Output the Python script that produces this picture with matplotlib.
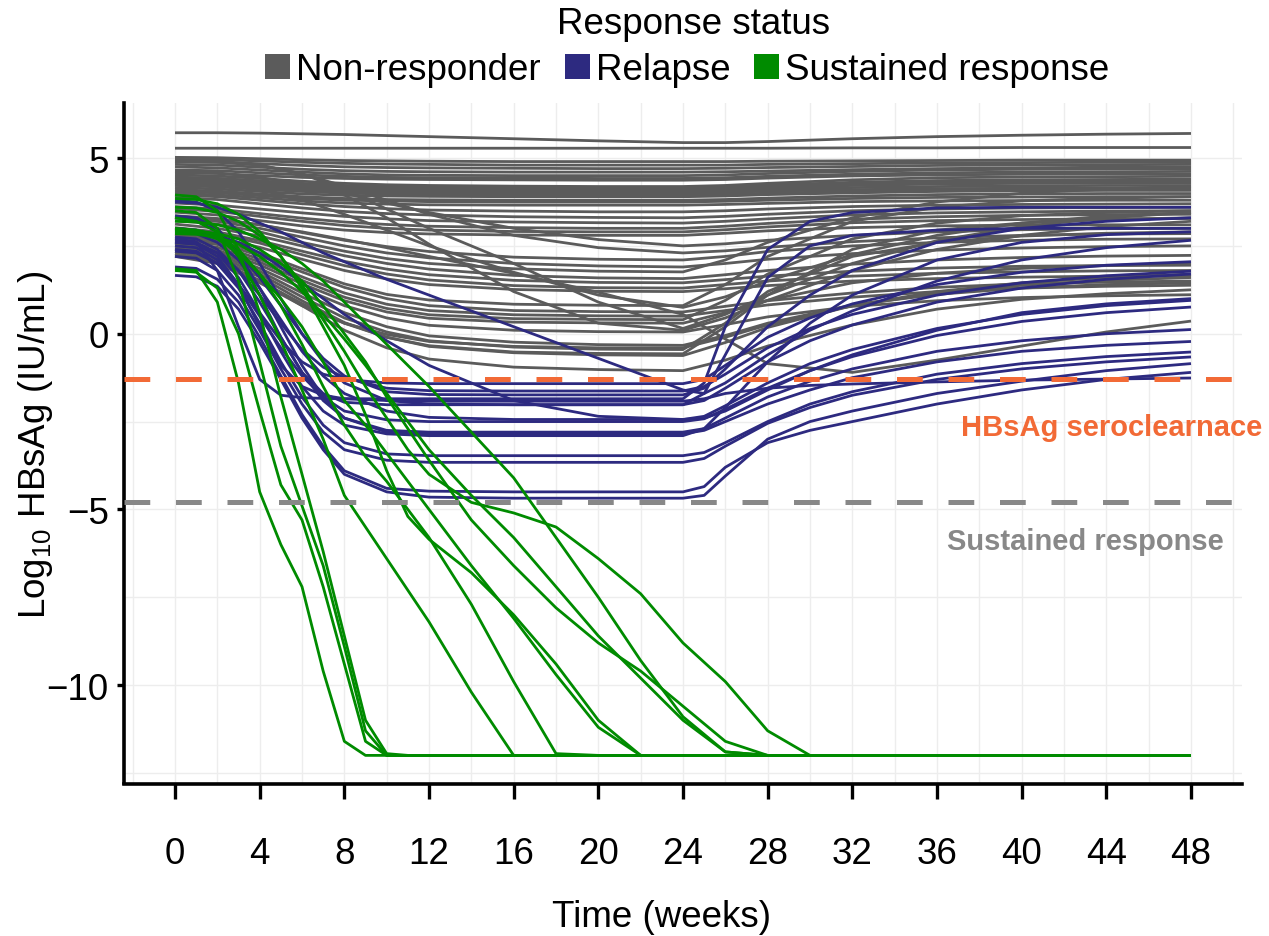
import matplotlib
matplotlib.use("Agg")
import matplotlib.pyplot as plt
from matplotlib.patches import Rectangle
from matplotlib.ticker import FixedLocator

# ---------------- data ----------------
weeks_nr = [0, 2, 4, 6, 8, 10, 12, 16, 20, 24, 26, 28, 32, 36, 40, 44, 48]
nonresponder = [
    [5.72, 5.72, 5.71, 5.69, 5.67, 5.64, 5.61, 5.55, 5.49, 5.44, 5.44, 5.47, 5.55, 5.61, 5.65, 5.68, 5.70],
    [5.28, 5.28, 5.28, 5.28, 5.28, 5.28, 5.28, 5.28, 5.28, 5.28, 5.28, 5.28, 5.29, 5.29, 5.30, 5.30, 5.30],
    [5.02, 5.01, 4.98, 4.95, 4.93, 4.92, 4.91, 4.90, 4.90, 4.90, 4.90, 4.91, 4.92, 4.93, 4.94, 4.94, 4.94],
    [4.96, 4.95, 4.92, 4.88, 4.85, 4.83, 4.82, 4.80, 4.80, 4.80, 4.80, 4.82, 4.84, 4.86, 4.87, 4.88, 4.88],
    [4.90, 4.88, 4.84, 4.79, 4.75, 4.73, 4.72, 4.71, 4.70, 4.70, 4.71, 4.73, 4.76, 4.79, 4.80, 4.81, 4.82],
    [4.82, 4.80, 4.74, 4.68, 4.64, 4.62, 4.61, 4.60, 4.60, 4.60, 4.61, 4.63, 4.67, 4.70, 4.72, 4.74, 4.75],
    [4.75, 4.72, 4.66, 4.60, 4.55, 4.52, 4.51, 4.50, 4.50, 4.50, 4.52, 4.56, 4.62, 4.66, 4.68, 4.69, 4.70],
    [4.66, 4.64, 4.58, 4.52, 4.48, 4.45, 4.44, 4.43, 4.42, 4.42, 4.44, 4.48, 4.54, 4.58, 4.60, 4.61, 4.62],
    [4.58, 4.56, 4.50, 4.45, 4.42, 4.40, 4.39, 4.38, 4.37, 4.37, 4.39, 4.43, 4.49, 4.52, 4.54, 4.55, 4.55],
    [4.52, 4.49, 4.42, 4.34, 4.28, 4.24, 4.22, 4.20, 4.19, 4.19, 4.22, 4.28, 4.38, 4.44, 4.46, 4.47, 4.48],
    [4.46, 4.42, 4.35, 4.28, 4.22, 4.19, 4.17, 4.16, 4.15, 4.15, 4.18, 4.23, 4.31, 4.36, 4.38, 4.39, 4.40],
    [4.40, 4.36, 4.29, 4.22, 4.17, 4.14, 4.12, 4.11, 4.10, 4.10, 4.13, 4.18, 4.26, 4.31, 4.33, 4.34, 4.35],
    [4.36, 4.32, 4.25, 4.18, 4.13, 4.11, 4.09, 4.08, 4.08, 4.08, 4.11, 4.15, 4.22, 4.26, 4.28, 4.29, 4.30],
    [4.30, 4.27, 4.20, 4.14, 4.10, 4.08, 4.06, 4.05, 4.05, 4.05, 4.07, 4.11, 4.16, 4.19, 4.21, 4.22, 4.22],
    [4.26, 4.22, 4.16, 4.10, 4.05, 4.03, 4.01, 4.00, 4.00, 4.00, 4.02, 4.06, 4.10, 4.13, 4.14, 4.15, 4.15],
    [4.22, 4.18, 4.11, 4.05, 4.00, 3.98, 3.96, 3.95, 3.95, 3.95, 3.97, 4.00, 4.05, 4.08, 4.09, 4.10, 4.10],
    [4.16, 4.12, 4.05, 3.98, 3.94, 3.92, 3.91, 3.90, 3.90, 3.90, 3.92, 3.96, 4.01, 4.05, 4.07, 4.08, 4.08],
    [4.10, 4.06, 3.98, 3.90, 3.85, 3.82, 3.81, 3.80, 3.80, 3.80, 3.82, 3.86, 3.92, 3.96, 3.98, 3.99, 3.99],
    [4.05, 4.01, 3.93, 3.85, 3.80, 3.78, 3.76, 3.75, 3.75, 3.75, 3.77, 3.80, 3.85, 3.88, 3.89, 3.90, 3.90],
    [4.00, 3.95, 3.87, 3.78, 3.72, 3.69, 3.67, 3.66, 3.66, 3.66, 3.68, 3.71, 3.76, 3.78, 3.79, 3.80, 3.80],
    [3.95, 3.90, 3.80, 3.70, 3.62, 3.56, 3.52, 3.49, 3.47, 3.47, 3.50, 3.55, 3.62, 3.66, 3.68, 3.69, 3.70],
    [3.88, 3.82, 3.70, 3.58, 3.48, 3.42, 3.38, 3.33, 3.31, 3.30, 3.34, 3.40, 3.50, 3.55, 3.58, 3.59, 3.60],
    [3.72, 3.66, 3.55, 3.44, 3.34, 3.27, 3.22, 3.18, 3.16, 3.15, 3.20, 3.27, 3.38, 3.44, 3.47, 3.49, 3.50],
    [3.62, 3.55, 3.42, 3.29, 3.18, 3.11, 3.06, 3.02, 3.00, 3.00, 3.06, 3.14, 3.26, 3.33, 3.37, 3.39, 3.40],
    [3.56, 3.48, 3.34, 3.20, 3.08, 3.00, 2.95, 2.91, 2.90, 2.90, 2.96, 3.04, 3.16, 3.22, 3.25, 3.27, 3.28],
    [3.46, 3.38, 3.22, 3.07, 2.95, 2.88, 2.84, 2.81, 2.80, 2.80, 2.86, 2.93, 3.02, 3.07, 3.09, 3.10, 3.10],
    [4.62, 4.58, 4.45, 4.25, 4.00, 3.72, 3.45, 3.00, 2.68, 2.50, 2.56, 2.66, 2.80, 2.90, 2.96, 2.99, 3.00],
    [4.95, 4.92, 4.80, 4.55, 4.20, 3.80, 3.40, 2.80, 2.45, 2.30, 2.36, 2.46, 2.62, 2.73, 2.80, 2.84, 2.85],
    [3.36, 3.28, 3.10, 2.88, 2.66, 2.48, 2.34, 2.18, 2.12, 2.10, 2.20, 2.34, 2.50, 2.60, 2.66, 2.69, 2.70],
    [3.30, 3.20, 3.00, 2.75, 2.50, 2.30, 2.16, 2.00, 1.93, 1.90, 2.00, 2.12, 2.28, 2.38, 2.44, 2.48, 2.50],
    [3.22, 3.12, 2.90, 2.60, 2.35, 2.14, 2.00, 1.85, 1.78, 1.76, 2.10, 2.60, 3.30, 3.75, 4.00, 4.12, 4.20],
    [3.12, 3.00, 2.78, 2.50, 2.22, 2.00, 1.84, 1.66, 1.59, 1.57, 1.68, 1.80, 1.98, 2.10, 2.17, 2.21, 2.23],
    [3.02, 2.90, 2.65, 2.35, 2.06, 1.84, 1.68, 1.52, 1.46, 1.45, 1.54, 1.64, 1.78, 1.87, 1.92, 1.94, 1.95],
    [2.96, 2.84, 2.58, 2.25, 1.94, 1.70, 1.53, 1.37, 1.31, 1.30, 1.40, 1.50, 1.64, 1.72, 1.76, 1.79, 1.80],
    [2.86, 2.74, 2.46, 2.12, 1.80, 1.56, 1.40, 1.26, 1.21, 1.20, 1.28, 1.37, 1.50, 1.57, 1.61, 1.64, 1.65],
    [2.82, 2.66, 2.30, 1.85, 1.42, 1.12, 0.96, 0.84, 0.81, 0.80, 1.40, 2.20, 3.20, 3.60, 3.78, 3.86, 3.90],
    [2.76, 2.60, 2.22, 1.76, 1.32, 1.00, 0.80, 0.66, 0.63, 0.62, 0.78, 0.94, 1.16, 1.32, 1.42, 1.47, 1.50],
    [2.70, 2.54, 2.12, 1.62, 1.16, 0.84, 0.66, 0.54, 0.51, 0.50, 0.66, 0.82, 1.04, 1.20, 1.30, 1.35, 1.38],
    [2.62, 2.46, 2.04, 1.52, 1.04, 0.72, 0.54, 0.43, 0.41, 0.40, 0.95, 1.70, 2.70, 3.15, 3.36, 3.45, 3.50],
    [2.56, 2.38, 1.96, 1.42, 0.94, 0.62, 0.44, 0.33, 0.31, 0.30, 0.60, 0.95, 1.45, 1.72, 1.86, 1.94, 2.00],
    [2.50, 2.32, 1.86, 1.30, 0.80, 0.45, 0.24, 0.10, 0.06, 0.05, 0.26, 0.48, 0.78, 0.94, 1.03, 1.08, 1.11],
    [2.44, 2.26, 1.78, 1.16, 0.60, 0.20, -0.06, -0.24, -0.31, -0.33, -0.05, 0.30, 0.82, 1.12, 1.30, 1.40, 1.45],
    [2.40, 2.20, 1.70, 1.05, 0.45, 0.05, -0.20, -0.38, -0.44, -0.45, 0.30, 1.20, 2.20, 2.60, 2.78, 2.86, 2.90],
    [2.34, 2.14, 1.62, 0.94, 0.32, -0.10, -0.36, -0.54, -0.60, -0.62, -0.25, 0.18, 0.80, 1.20, 1.45, 1.60, 1.70],
    [2.28, 2.08, 1.52, 0.80, 0.10, -0.40, -0.72, -0.95, -1.02, -1.05, -0.75, -0.35, 0.25, 0.70, 0.98, 1.14, 1.25],
    [3.32, 3.25, 3.10, 2.90, 2.68, 2.45, 2.20, 1.72, 1.18, 0.55, -0.15, -0.85, -1.10, -0.75, -0.35, 0.05, 0.36],
    [2.24, 2.04, 1.50, 0.86, 0.30, -0.10, -0.34, -0.52, -0.56, -0.57, 0.20, 1.10, 2.40, 2.95, 3.15, 3.25, 3.30],
    [2.20, 2.00, 1.45, 0.80, 0.30, -0.02, -0.22, -0.36, -0.40, -0.40, -0.10, 0.25, 0.80, 1.15, 1.38, 1.52, 1.60],
    [4.45, 4.42, 4.35, 4.20, 3.95, 3.30, 2.55, 1.20, 0.30, 0.10, 0.45, 0.95, 1.80, 2.40, 2.80, 3.05, 3.20],
    [4.90, 4.88, 4.80, 4.55, 4.10, 3.55, 3.00, 2.00, 0.90, 0.15, 0.55, 1.10, 2.00, 2.65, 3.05, 3.30, 3.45],
    [4.30, 4.25, 4.10, 3.80, 3.40, 2.95, 2.50, 1.75, 1.10, 0.75, 1.05, 1.50, 2.25, 2.80, 3.15, 3.35, 3.45],
]

weeks_rel = [0, 1, 2, 3, 4, 5, 6, 7, 8, 10, 12, 16, 20, 24, 25, 26, 28, 30, 32, 36, 40, 44, 48]
relapse = [
    [2.70, 2.62, 1.80, 0.20, -1.30, -1.75, -1.82, -1.84, -1.85, -1.85, -1.85, -1.85, -1.85, -1.85, -1.40, 0.20, 2.40, 3.20, 3.45, 3.58, 3.60, 3.60, 3.60],
    [3.30, 3.25, 2.90, 2.20, 1.10, -0.10, -1.10, -1.70, -1.95, -2.02, -2.02, -2.02, -2.02, -2.02, -1.70, -0.60, 1.60, 2.50, 2.80, 2.95, 3.00, 3.00, 3.00],
    [3.75, 3.72, 3.60, 3.40, 3.15, 2.90, 2.60, 2.30, 2.05, 1.55, 1.10, 0.20, -0.70, -1.60, -1.70, -1.40, -0.60, 0.10, 0.65, 1.50, 2.10, 2.45, 2.66],
    [2.35, 2.30, 2.00, 1.40, 0.60, -0.20, -0.80, -1.15, -1.30, -1.40, -1.42, -1.42, -1.42, -1.42, -1.30, -0.90, -0.10, 0.45, 0.85, 1.40, 1.75, 1.95, 2.05],
    [2.60, 2.55, 2.30, 1.80, 1.10, 0.30, -0.45, -0.95, -1.25, -1.55, -1.62, -1.63, -1.63, -1.63, -1.50, -1.15, -0.40, 0.15, 0.55, 1.10, 1.45, 1.65, 1.78],
    [3.00, 2.95, 2.75, 2.30, 1.60, 0.80, 0.00, -0.70, -1.20, -1.65, -1.73, -1.74, -1.74, -1.74, -1.55, -1.00, 0.20, 1.10, 1.80, 2.60, 3.00, 3.20, 3.30],
    [2.90, 2.85, 2.60, 2.10, 1.30, 0.40, -0.50, -1.20, -1.70, -2.20, -2.38, -2.44, -2.44, -2.44, -2.35, -2.05, -1.40, -0.85, -0.45, 0.15, 0.55, 0.80, 0.95],
    [2.50, 2.45, 2.10, 1.40, 0.50, -0.40, -1.20, -1.80, -2.20, -2.45, -2.50, -2.50, -2.50, -2.50, -2.42, -2.15, -1.55, -1.05, -0.65, -0.05, 0.35, 0.60, 0.76],
    [2.75, 2.70, 2.40, 1.80, 0.90, -0.10, -1.10, -1.90, -2.40, -2.75, -2.80, -2.80, -2.80, -2.80, -2.70, -2.40, -1.80, -1.35, -1.00, -0.50, -0.20, 0.00, 0.12],
    [3.35, 3.30, 3.00, 2.30, 1.30, 0.20, -0.90, -1.80, -2.40, -2.80, -2.85, -2.85, -2.85, -2.85, -2.75, -2.50, -2.00, -1.60, -1.25, -0.80, -0.50, -0.33, -0.22],
    [2.65, 2.60, 2.30, 1.60, 0.60, -0.50, -1.50, -2.20, -2.60, -2.85, -2.90, -2.90, -2.90, -2.90, -2.70, -2.10, -0.80, 0.30, 1.10, 2.10, 2.60, 2.82, 2.90],
    [2.40, 2.35, 2.00, 1.30, 0.30, -0.80, -1.80, -2.60, -3.10, -3.42, -3.47, -3.47, -3.47, -3.47, -3.38, -3.10, -2.50, -2.00, -1.65, -1.15, -0.85, -0.65, -0.52],
    [2.20, 2.15, 1.80, 1.10, 0.10, -1.00, -2.00, -2.80, -3.30, -3.60, -3.66, -3.66, -3.66, -3.66, -3.55, -3.20, -2.55, -2.10, -1.75, -1.30, -1.00, -0.80, -0.66],
    [1.90, 1.86, 1.55, 0.90, -0.10, -1.20, -2.30, -3.20, -3.90, -4.40, -4.48, -4.50, -4.50, -4.50, -4.35, -3.80, -3.10, -2.75, -2.50, -2.00, -1.60, -1.30, -1.10],
    [1.66, 1.62, 1.35, 0.70, -0.25, -1.30, -2.40, -3.30, -4.00, -4.50, -4.65, -4.68, -4.68, -4.68, -4.60, -4.05, -3.00, -2.50, -2.20, -1.70, -1.35, -1.05, -0.85],
    [2.60, 2.55, 2.20, 1.40, 0.20, -0.90, -1.50, -1.75, -1.85, -1.90, -1.92, -1.92, -1.92, -1.92, -1.85, -1.70, -1.55, -1.47, -1.43, -1.37, -1.32, -1.29, -1.26],
    [3.80, 3.75, 3.50, 2.90, 2.00, 1.00, 0.00, -0.80, -1.40, -1.90, -2.00, -2.02, -2.02, -2.02, -1.90, -1.55, -0.80, -0.20, 0.25, 0.90, 1.30, 1.55, 1.70],
    [2.95, 2.92, 2.80, 2.60, 2.30, 1.90, 1.45, 1.00, 0.55, -0.20, -0.90, -1.90, -2.35, -2.44, -2.40, -2.20, -1.60, -1.05, -0.60, 0.10, 0.60, 0.85, 1.00],
]

weeks_sr = [0, 1, 2, 3, 4, 5, 6, 7, 8, 9, 10, 11, 12, 14, 16, 18, 20, 22, 24, 26, 28, 30, 32, 48]
sustained = [
    [1.85, 1.80, 0.90, -1.40, -4.50, -6.00, -7.20, -9.60, -11.60, -12, -12, -12, -12, -12, -12, -12, -12, -12, -12, -12, -12, -12, -12, -12],
    [1.80, 1.75, 1.30, 0.00, -2.20, -4.30, -5.30, -7.20, -9.40, -11.60, -12, -12, -12, -12, -12, -12, -12, -12, -12, -12, -12, -12, -12, -12],
    [3.50, 3.45, 3.00, 1.50, -0.80, -3.20, -4.90, -6.60, -8.90, -11.30, -12, -12, -12, -12, -12, -12, -12, -12, -12, -12, -12, -12, -12, -12],
    [3.95, 3.90, 3.50, 2.40, 0.60, -1.80, -4.00, -6.20, -8.60, -11.00, -11.95, -12, -12, -12, -12, -12, -12, -12, -12, -12, -12, -12, -12, -12],
    [3.30, 3.20, 2.90, 2.20, 1.10, -0.20, -1.60, -3.00, -4.60, -5.50, -6.40, -7.30, -8.20, -10.20, -12, -12, -12, -12, -12, -12, -12, -12, -12, -12],
    [3.00, 2.95, 2.80, 2.40, 1.70, 0.80, -0.30, -1.50, -2.60, -3.50, -4.20, -5.00, -5.80, -7.70, -9.90, -11.95, -12, -12, -12, -12, -12, -12, -12, -12],
    [3.85, 3.82, 3.70, 3.40, 2.90, 2.20, 1.30, 0.20, -0.90, -2.30, -3.90, -5.20, -5.85, -6.80, -8.00, -9.40, -11.00, -12, -12, -12, -12, -12, -12, -12],
    [2.90, 2.88, 2.70, 2.30, 1.70, 1.00, 0.20, -0.80, -1.90, -2.60, -3.40, -4.20, -5.00, -6.60, -8.10, -9.70, -11.20, -12, -12, -12, -12, -12, -12, -12],
    [3.60, 3.58, 3.45, 3.20, 2.80, 2.20, 1.40, 0.40, -0.50, -1.50, -2.40, -3.30, -4.00, -4.80, -5.10, -5.50, -6.40, -7.40, -8.80, -9.90, -11.30, -12, -12, -12],
    [2.95, 2.93, 2.85, 2.70, 2.40, 2.00, 1.50, 0.80, 0.00, -0.80, -1.80, -2.70, -3.60, -5.30, -6.60, -7.80, -8.80, -9.60, -10.60, -11.60, -12, -12, -12, -12],
    [2.85, 2.83, 2.75, 2.55, 2.20, 1.75, 1.20, 0.55, -0.15, -0.90, -1.70, -2.50, -3.30, -4.60, -5.80, -7.20, -8.60, -9.80, -11.00, -11.90, -12, -12, -12, -12],
    [3.20, 3.18, 3.10, 2.95, 2.70, 2.40, 2.00, 1.50, 0.90, 0.30, -0.30, -0.90, -1.50, -2.80, -4.10, -5.80, -7.50, -9.30, -10.90, -11.90, -12, -12, -12, -12],
]

legend_labels = ["Non-responder", "Relapse", "Sustained response"]
x_ticks = list(range(0, 49, 4))
y_ticks = [-10, -5, 0, 5]
seroclearance_level = -1.3
sustained_level = -4.8

COL_NR = "#5B5B5B"
COL_REL = "#2D2A80"
COL_SR = "#008B00"
COL_ORANGE = "#F26A36"
COL_DGRAY = "#888888"

# ---------------- figure ----------------
plt.rcParams['font.family'] = ['Liberation Sans', 'DejaVu Sans']
plt.rcParams['mathtext.fontset'] = 'custom'
plt.rcParams['mathtext.rm'] = 'Liberation Sans'
plt.rcParams['mathtext.it'] = 'Liberation Sans:italic'
plt.rcParams['mathtext.bf'] = 'Liberation Sans:bold'

W, H = 1269, 937
FS = 26.5
fig = plt.figure(figsize=(W / 100, H / 100), dpi=100)
L, R, B, T = 124, 1242, 784.5, 104
ax = fig.add_axes([L / W, 1 - B / H, (R - L) / W, (B - T) / H])
ax.set_xlim(-2.41, 50.41)
ax.set_ylim(-12.8, 6.567)

lw = 2.0
for c in nonresponder:
    ax.plot(weeks_nr, c, color=COL_NR, lw=lw, solid_joinstyle='round', solid_capstyle='butt', zorder=2)
for c in relapse:
    ax.plot(weeks_rel, c, color=COL_REL, lw=lw, solid_joinstyle='round', solid_capstyle='butt', zorder=3)
for c in sustained:
    ax.plot(weeks_sr, c, color=COL_SR, lw=lw, solid_joinstyle='round', solid_capstyle='butt', zorder=4)

ax.axhline(seroclearance_level, color=COL_ORANGE, lw=3.6, dashes=(5.15, 5.15), zorder=6)
ax.axhline(sustained_level, color=COL_DGRAY, lw=3.6, dashes=(5.15, 5.15), zorder=6)

# axes styling
ax.set_xticks(x_ticks)
ax.set_yticks(y_ticks)
ax.xaxis.set_minor_locator(FixedLocator(list(range(-2, 51, 4))))
ax.yaxis.set_minor_locator(FixedLocator([-12.5, -7.5, -2.5, 2.5]))
ax.grid(True, which='both', color='#EDEDED', lw=1.0)
ax.set_axisbelow(True)
for s in ['top', 'right']:
    ax.spines[s].set_visible(False)
for s in ['left', 'bottom']:
    ax.spines[s].set_linewidth(2.6)
    ax.spines[s].set_color('black')
ax.tick_params(which='minor', length=0)
ax.tick_params(axis='x', which='major', length=10.8, width=2.4, pad=27, labelsize=FS, colors='black')
ax.tick_params(axis='y', which='major', length=5, width=2.4, pad=6, labelsize=FS, colors='black')

# axis titles
fig.text(661 / W, 1 - 927 / H, 'Time (weeks)', ha='center', va='baseline', fontsize=FS)
fig.text(36 / W, 1 - 445 / H, r'Log$_{\mathrm{10}}$ HBsAg (IU/mL)', ha='center', va='center',
         rotation=90, fontsize=FS)

# annotations
fig.text(1262 / W, 1 - 436 / H, 'HBsAg seroclearnace', ha='right', va='baseline',
         fontsize=21, fontweight='bold', color=COL_ORANGE)
fig.text(1224 / W, 1 - 550 / H, 'Sustained response', ha='right', va='baseline',
         fontsize=21, fontweight='bold', color=COL_DGRAY)

# legend (manual)
fig.text(694 / W, 1 - 34 / H, 'Response status', ha='center', va='baseline', fontsize=FS)
leg_colors = [COL_NR, COL_REL, COL_SR]
text_x = [296, 596, 785]
sw = 25
for lab, col, tx in zip(legend_labels, leg_colors, text_x):
    x0 = tx - 6 - sw
    fig.add_artist(Rectangle((x0 / W, 1 - 80 / H), sw / W, sw / H, transform=fig.transFigure,
                             facecolor=col, edgecolor='none'))
    fig.text(tx / W, 1 - 80 / H, lab, ha='left', va='baseline', fontsize=FS)

fig.savefig('out.png', dpi=100)
